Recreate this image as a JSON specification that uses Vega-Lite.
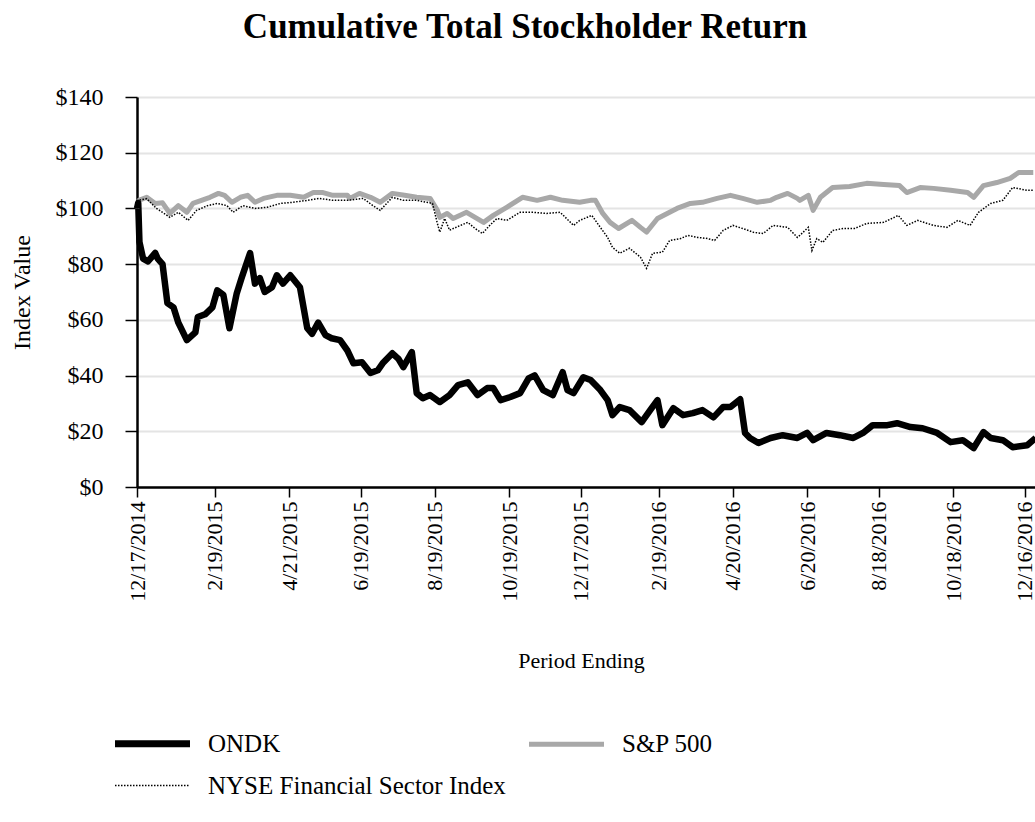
{
  "$schema": "https://vega.github.io/schema/vega-lite/v6.json",
  "width": 906,
  "height": 390,
  "autosize": {"type": "none"},
  "padding": {"left": 137, "top": 97, "right": 0, "bottom": 335},
  "background": "white",
  "config": {"view": {"stroke": null}, "font": "Liberation Serif"},
  "title": {"text": "Cumulative Total Stockholder Return", "font": "Liberation Serif", "fontSize": 35, "fontWeight": "bold", "color": "black", "anchor": "middle", "dx": -65, "offset": 40},
  "datasets": {
    "ondk": [
      {"date":"2014-12-17","value":100},{"date":"2014-12-18","value":102},{"date":"2014-12-19","value":88},{"date":"2014-12-22","value":82},{"date":"2014-12-26","value":81},{"date":"2015-01-01","value":84},{"date":"2015-01-03","value":82},{"date":"2015-01-07","value":80},{"date":"2015-01-11","value":66},{"date":"2015-01-16","value":64.5},{"date":"2015-01-20","value":59},{"date":"2015-01-27","value":52.7},{"date":"2015-02-03","value":55.5},{"date":"2015-02-05","value":61},{"date":"2015-02-11","value":62},{"date":"2015-02-17","value":64.5},{"date":"2015-02-21","value":70.6},{"date":"2015-02-26","value":69},{"date":"2015-03-03","value":57},{"date":"2015-03-09","value":69.5},{"date":"2015-03-13","value":75},{"date":"2015-03-20","value":84},{"date":"2015-03-24","value":73},{"date":"2015-03-28","value":75},{"date":"2015-04-01","value":70},{"date":"2015-04-07","value":71.7},{"date":"2015-04-11","value":76},{"date":"2015-04-16","value":73},{"date":"2015-04-22","value":76},{"date":"2015-04-30","value":71.7},{"date":"2015-05-06","value":57},{"date":"2015-05-10","value":55},{"date":"2015-05-15","value":59},{"date":"2015-05-21","value":54.5},{"date":"2015-05-26","value":53.4},{"date":"2015-06-02","value":52.7},{"date":"2015-06-08","value":49},{"date":"2015-06-13","value":44.4},{"date":"2015-06-20","value":44.8},{"date":"2015-06-27","value":40.9},{"date":"2015-07-03","value":41.9},{"date":"2015-07-07","value":44.4},{"date":"2015-07-15","value":48},{"date":"2015-07-20","value":46},{"date":"2015-07-24","value":43},{"date":"2015-07-31","value":48.4},{"date":"2015-08-04","value":33.7},{"date":"2015-08-09","value":31.9},{"date":"2015-08-15","value":33},{"date":"2015-08-23","value":30.5},{"date":"2015-08-31","value":33},{"date":"2015-09-07","value":36.6},{"date":"2015-09-15","value":37.6},{"date":"2015-09-23","value":33},{"date":"2015-10-01","value":35.5},{"date":"2015-10-06","value":35.5},{"date":"2015-10-12","value":31.2},{"date":"2015-10-20","value":32.3},{"date":"2015-10-28","value":33.7},{"date":"2015-11-04","value":39},{"date":"2015-11-09","value":40.1},{"date":"2015-11-16","value":34.8},{"date":"2015-11-24","value":33},{"date":"2015-12-02","value":41.2},{"date":"2015-12-06","value":34.8},{"date":"2015-12-11","value":33.7},{"date":"2015-12-19","value":39.4},{"date":"2015-12-25","value":38.4},{"date":"2016-01-02","value":34.8},{"date":"2016-01-08","value":31.2},{"date":"2016-01-12","value":25.8},{"date":"2016-01-18","value":28.7},{"date":"2016-01-26","value":27.6},{"date":"2016-02-05","value":23.3},{"date":"2016-02-12","value":27.6},{"date":"2016-02-18","value":31.2},{"date":"2016-02-22","value":22.2},{"date":"2016-03-02","value":28.3},{"date":"2016-03-10","value":25.8},{"date":"2016-03-18","value":26.5},{"date":"2016-03-26","value":27.6},{"date":"2016-04-04","value":25},{"date":"2016-04-12","value":28.7},{"date":"2016-04-18","value":28.7},{"date":"2016-04-26","value":31.5},{"date":"2016-04-30","value":19.4},{"date":"2016-05-04","value":17.6},{"date":"2016-05-11","value":15.8},{"date":"2016-05-21","value":17.6},{"date":"2016-05-31","value":18.6},{"date":"2016-06-12","value":17.6},{"date":"2016-06-20","value":19.4},{"date":"2016-06-25","value":16.8},{"date":"2016-07-06","value":19.4},{"date":"2016-07-17","value":18.6},{"date":"2016-07-28","value":17.6},{"date":"2016-08-05","value":19.4},{"date":"2016-08-13","value":22.2},{"date":"2016-08-25","value":22.2},{"date":"2016-09-02","value":22.9},{"date":"2016-09-13","value":21.5},{"date":"2016-09-23","value":21.1},{"date":"2016-10-05","value":19.4},{"date":"2016-10-16","value":16.1},{"date":"2016-10-26","value":16.8},{"date":"2016-11-04","value":14},{"date":"2016-11-12","value":19.7},{"date":"2016-11-18","value":17.6},{"date":"2016-11-28","value":16.8},{"date":"2016-12-06","value":14.3},{"date":"2016-12-18","value":15},{"date":"2016-12-25","value":17.6}
    ],
    "sp": [
      {"date":"2014-12-17","value":100},{"date":"2014-12-18","value":102.4},{"date":"2014-12-19","value":103},{"date":"2014-12-25","value":104},{"date":"2015-01-01","value":101.8},{"date":"2015-01-07","value":102},{"date":"2015-01-13","value":98.2},{"date":"2015-01-20","value":101},{"date":"2015-01-27","value":98.6},{"date":"2015-02-01","value":101.8},{"date":"2015-02-08","value":102.9},{"date":"2015-02-15","value":104},{"date":"2015-02-22","value":105.4},{"date":"2015-02-27","value":104.7},{"date":"2015-03-05","value":102.2},{"date":"2015-03-12","value":104},{"date":"2015-03-18","value":104.7},{"date":"2015-03-24","value":102.2},{"date":"2015-03-31","value":103.6},{"date":"2015-04-11","value":104.7},{"date":"2015-04-22","value":104.7},{"date":"2015-05-03","value":104},{"date":"2015-05-11","value":105.7},{"date":"2015-05-19","value":105.7},{"date":"2015-05-27","value":104.7},{"date":"2015-06-08","value":104.7},{"date":"2015-06-10","value":103.6},{"date":"2015-06-18","value":105.4},{"date":"2015-06-27","value":104},{"date":"2015-07-05","value":102.2},{"date":"2015-07-15","value":105.4},{"date":"2015-07-25","value":104.7},{"date":"2015-08-04","value":104},{"date":"2015-08-15","value":103.6},{"date":"2015-08-21","value":99.3},{"date":"2015-08-23","value":96.8},{"date":"2015-08-29","value":98.2},{"date":"2015-09-03","value":96.4},{"date":"2015-09-14","value":98.6},{"date":"2015-09-21","value":96.8},{"date":"2015-09-28","value":95},{"date":"2015-10-06","value":97.5},{"date":"2015-10-17","value":100.4},{"date":"2015-10-30","value":104},{"date":"2015-11-11","value":102.9},{"date":"2015-11-22","value":104},{"date":"2015-12-02","value":102.9},{"date":"2015-12-16","value":102.2},{"date":"2015-12-25","value":102.9},{"date":"2015-12-29","value":102.9},{"date":"2016-01-04","value":98.2},{"date":"2016-01-10","value":95},{"date":"2016-01-17","value":92.8},{"date":"2016-01-28","value":95.7},{"date":"2016-02-04","value":93.2},{"date":"2016-02-09","value":91.5},{"date":"2016-02-18","value":96.4},{"date":"2016-02-26","value":98.2},{"date":"2016-03-05","value":100},{"date":"2016-03-16","value":101.8},{"date":"2016-03-26","value":102.2},{"date":"2016-04-07","value":103.6},{"date":"2016-04-18","value":104.7},{"date":"2016-04-28","value":103.6},{"date":"2016-05-10","value":102.2},{"date":"2016-05-21","value":102.9},{"date":"2016-05-26","value":104},{"date":"2016-06-04","value":105.4},{"date":"2016-06-12","value":103.6},{"date":"2016-06-14","value":102.9},{"date":"2016-06-21","value":104.7},{"date":"2016-06-25","value":99.3},{"date":"2016-07-01","value":104},{"date":"2016-07-11","value":107.5},{"date":"2016-07-25","value":107.9},{"date":"2016-08-08","value":109},{"date":"2016-08-22","value":108.6},{"date":"2016-09-04","value":108.2},{"date":"2016-09-10","value":105.7},{"date":"2016-09-21","value":107.5},{"date":"2016-10-02","value":107.2},{"date":"2016-10-16","value":106.5},{"date":"2016-10-30","value":105.7},{"date":"2016-11-04","value":104},{"date":"2016-11-12","value":108.2},{"date":"2016-11-23","value":109.3},{"date":"2016-12-04","value":110.8},{"date":"2016-12-11","value":112.9},{"date":"2016-12-23","value":112.9}
    ],
    "nyse": [
      {"date":"2014-12-17","value":100},{"date":"2014-12-18","value":102.5},{"date":"2014-12-19","value":103},{"date":"2014-12-25","value":103.5},{"date":"2015-01-02","value":100},{"date":"2015-01-07","value":98.6},{"date":"2015-01-13","value":96.8},{"date":"2015-01-20","value":98.6},{"date":"2015-01-28","value":95.7},{"date":"2015-02-04","value":99.3},{"date":"2015-02-13","value":101},{"date":"2015-02-21","value":101.8},{"date":"2015-03-01","value":101},{"date":"2015-03-06","value":98.6},{"date":"2015-03-14","value":101},{"date":"2015-03-24","value":100},{"date":"2015-04-03","value":100.4},{"date":"2015-04-14","value":101.8},{"date":"2015-04-24","value":102.2},{"date":"2015-05-06","value":102.9},{"date":"2015-05-16","value":103.6},{"date":"2015-05-27","value":102.9},{"date":"2015-06-08","value":102.9},{"date":"2015-06-21","value":103.6},{"date":"2015-06-29","value":101},{"date":"2015-07-05","value":99.3},{"date":"2015-07-15","value":104},{"date":"2015-07-24","value":102.9},{"date":"2015-08-04","value":102.9},{"date":"2015-08-17","value":101.8},{"date":"2015-08-21","value":94.6},{"date":"2015-08-23","value":91.5},{"date":"2015-08-27","value":96.4},{"date":"2015-08-31","value":92.2},{"date":"2015-09-09","value":93.9},{"date":"2015-09-15","value":95},{"date":"2015-09-21","value":92.8},{"date":"2015-09-27","value":91},{"date":"2015-10-03","value":93.9},{"date":"2015-10-09","value":96.4},{"date":"2015-10-17","value":95.7},{"date":"2015-10-28","value":98.6},{"date":"2015-11-08","value":98.6},{"date":"2015-11-19","value":98.2},{"date":"2015-11-30","value":98.6},{"date":"2015-12-11","value":93.9},{"date":"2015-12-16","value":95.7},{"date":"2015-12-26","value":97.5},{"date":"2016-01-02","value":93.2},{"date":"2016-01-08","value":89.6},{"date":"2016-01-12","value":86},{"date":"2016-01-18","value":83.9},{"date":"2016-01-26","value":85.7},{"date":"2016-02-04","value":82.5},{"date":"2016-02-09","value":78.5},{"date":"2016-02-14","value":83.9},{"date":"2016-02-22","value":84.3},{"date":"2016-02-28","value":88.5},{"date":"2016-03-08","value":89.2},{"date":"2016-03-14","value":90.3},{"date":"2016-03-22","value":89.6},{"date":"2016-03-30","value":89.2},{"date":"2016-04-05","value":88.5},{"date":"2016-04-12","value":92.1},{"date":"2016-04-20","value":93.9},{"date":"2016-04-28","value":92.8},{"date":"2016-05-07","value":91.4},{"date":"2016-05-15","value":91},{"date":"2016-05-23","value":93.9},{"date":"2016-06-04","value":93.2},{"date":"2016-06-12","value":89.6},{"date":"2016-06-14","value":90.3},{"date":"2016-06-21","value":93.2},{"date":"2016-06-24","value":84.9},{"date":"2016-06-28","value":89.2},{"date":"2016-07-03","value":87.8},{"date":"2016-07-11","value":92.1},{"date":"2016-07-20","value":92.8},{"date":"2016-07-29","value":92.8},{"date":"2016-08-08","value":94.6},{"date":"2016-08-22","value":95},{"date":"2016-09-03","value":97.5},{"date":"2016-09-10","value":93.9},{"date":"2016-09-19","value":95.7},{"date":"2016-10-02","value":93.9},{"date":"2016-10-13","value":93.2},{"date":"2016-10-22","value":95.7},{"date":"2016-11-01","value":93.9},{"date":"2016-11-08","value":98.6},{"date":"2016-11-18","value":101.8},{"date":"2016-11-28","value":102.9},{"date":"2016-12-06","value":107.5},{"date":"2016-12-18","value":106.5},{"date":"2016-12-23","value":106.5}
    ]
  },
  "encoding": {
    "x": {
      "field": "date", "type": "temporal",
      "scale": {"type": "utc", "domain": [{"year": 2014, "month": 12, "date": 17, "utc": true}, {"year": 2016, "month": 12, "date": 31, "utc": true}]},
      "axis": {
        "values": [
          {"year": 2014, "month": 12, "date": 17, "utc": true},
          {"year": 2015, "month": 2, "date": 19, "utc": true},
          {"year": 2015, "month": 4, "date": 21, "utc": true},
          {"year": 2015, "month": 6, "date": 19, "utc": true},
          {"year": 2015, "month": 8, "date": 19, "utc": true},
          {"year": 2015, "month": 10, "date": 19, "utc": true},
          {"year": 2015, "month": 12, "date": 17, "utc": true},
          {"year": 2016, "month": 2, "date": 19, "utc": true},
          {"year": 2016, "month": 4, "date": 20, "utc": true},
          {"year": 2016, "month": 6, "date": 20, "utc": true},
          {"year": 2016, "month": 8, "date": 18, "utc": true},
          {"year": 2016, "month": 10, "date": 18, "utc": true},
          {"year": 2016, "month": 12, "date": 16, "utc": true}
        ],
        "labelExpr": "utcFormat(datum.value, '%-m/%-d/%Y')",
        "labelAngle": 270, "labelAlign": "right", "labelBaseline": "middle",
        "labelFont": "Liberation Serif", "labelFontSize": 22, "labelColor": "black", "labelPadding": 4, "labelOverlap": false,
        "grid": false, "domainColor": "black", "domainWidth": 2.5, "tickColor": "black", "tickSize": 10, "tickWidth": 1.5,
        "title": "Period Ending", "titleFont": "Liberation Serif", "titleFontSize": 22, "titleFontWeight": "normal", "titleColor": "black",
        "titleX": 444, "titleY": 173, "titleAlign": "center", "titleBaseline": "middle"
      }
    },
    "y": {
      "field": "value", "type": "quantitative",
      "scale": {"domain": [0, 140]},
      "axis": {
        "values": [0, 20, 40, 60, 80, 100, 120, 140], "format": "$.0f",
        "labelFont": "Liberation Serif", "labelFontSize": 24, "labelColor": "black", "labelPadding": 22,
        "grid": true, "gridColor": "#e4e4e4", "gridWidth": 2,
        "domainColor": "black", "domainWidth": 2.5, "tickColor": "black", "tickSize": 12, "tickWidth": 1.5,
        "title": "Index Value", "titleFont": "Liberation Serif", "titleFontSize": 24, "titleFontWeight": "normal", "titleColor": "black",
        "titleX": -115, "titleY": 195, "titleAngle": 270, "titleAlign": "center", "titleBaseline": "middle"
      }
    },
    "color": {
      "field": "series", "type": "nominal",
      "scale": {"domain": ["ONDK", "NYSE Financial Sector Index", "S&P 500"], "range": ["#000000", "#000000", "#a8a8a8"]},
      "legend": {
        "title": null, "orient": "none", "legendX": 3, "legendY": 634, "columns": 2, "columnPadding": 13, "rowPadding": 15,
        "symbolType": "stroke", "symbolSize": 5625, "symbolStrokeWidth": 5, "labelOffset": 43,
        "labelFont": "Liberation Serif", "labelFontSize": 25, "labelColor": "black", "labelLimit": 500,
        "encode": {"symbols": {"update": {
          "strokeWidth": {"signal": "datum.value === 'ONDK' ? 7 : datum.value === 'S&P 500' ? 5 : 1.5"},
          "strokeDash": {"signal": "datum.value === 'NYSE Financial Sector Index' ? [1.5, 1.5] : [1, 0]"}
        }}}
      }
    }
  },
  "layer": [
    {"data": {"name": "sp"}, "transform": [{"calculate": "'S&P 500'", "as": "series"}], "mark": {"type": "line", "strokeWidth": 5, "strokeJoin": "round"}},
    {"data": {"name": "nyse"}, "transform": [{"calculate": "'NYSE Financial Sector Index'", "as": "series"}], "mark": {"type": "line", "strokeWidth": 1.5, "strokeDash": [1.5, 1.5]}},
    {"data": {"name": "ondk"}, "transform": [{"calculate": "'ONDK'", "as": "series"}], "mark": {"type": "line", "strokeWidth": 6.5, "strokeJoin": "round"}}
  ]
}
